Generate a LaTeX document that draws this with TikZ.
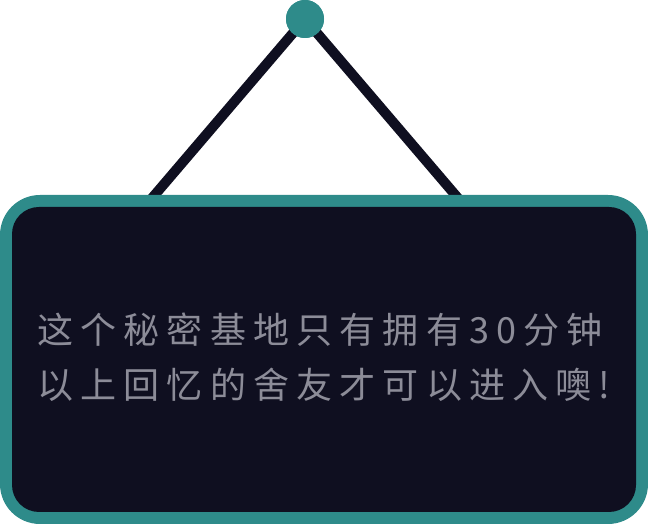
\documentclass[tikz,border=0pt]{standalone}
\usepackage{fontspec}
\newfontfamily\cjk[LetterSpace=20]{Noto Sans CJK SC}
\usetikzlibrary{positioning}
\definecolor{colorframe}{RGB}{46,139,138}
\definecolor{colorboard}{RGB}{15,15,32}
\definecolor{colortext} {RGB}{140,140,152}

\begin{document}
\begin{tikzpicture}[
    x=1pt, y=1pt,
    frame/.style={rectangle,fill=colorframe,minimum width=648pt,minimum height=329pt,rounded corners=40pt,inner sep=0pt},
    board/.style={rectangle,fill=colorboard,minimum width=624pt,minimum height=305pt,rounded corners=27pt,inner sep=0pt},
    pin/.style={circle,fill=colorframe,minimum size=38pt,inner sep=0pt},
    rope/.style={draw=colorboard,line width=10pt},
    txt/.style={text=colortext,font={\cjk\fontsize{36}{40}\selectfont},inner sep=0pt},
]
    \useasboundingbox (0,0) rectangle (648,524);

    % Hooks
    \node[pin] (pin) at (305,505) {};
    \coordinate (hookL) at (147,320);
    \coordinate (hookR) at (463,320);

    % Ropes
    \draw[rope] (hookL) -- (pin.center) -- (hookR);

    % Sign
    \node[frame] (frame) at (324,164.5) {};
    \node[board] (board) at (frame.center) {};
    \node[pin] at (pin.center) {};

    % Text
    \node[txt,anchor=base west] (line1) at (37,180) {这个秘密基地只有拥有30分钟};
    \node[txt,anchor=base west] (line2) at ([yshift=-55pt]line1.base west) {以上回忆的舍友才可以进入噢!};

\end{tikzpicture}
\end{document}
